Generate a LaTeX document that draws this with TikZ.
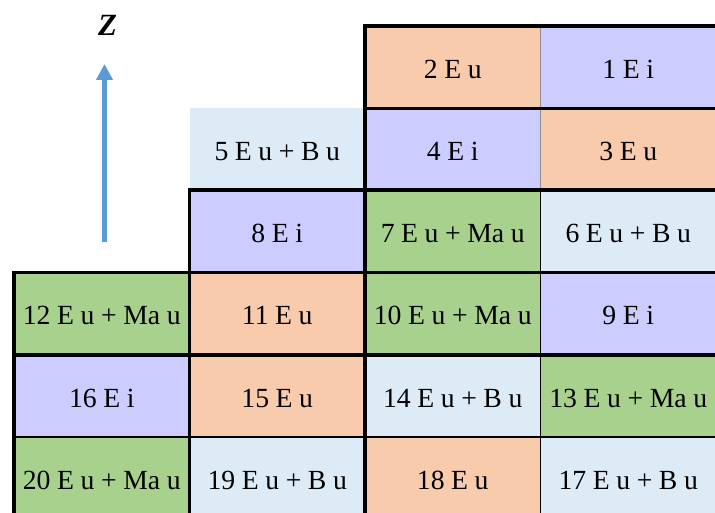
\documentclass[tikz,border=0pt]{standalone}
\usepackage{fontspec}
\setmainfont{Liberation Serif}[WordSpace=0.95]
\usetikzlibrary{arrows.meta}
\definecolor{peach}{HTML}{F8CBAD}
\definecolor{lav}{HTML}{CCCCFF}
\definecolor{grn}{HTML}{A9D18E}
\definecolor{lblue}{HTML}{DDEBF7}
\definecolor{zblue}{HTML}{5B9BD5}
\tikzset{
  cell/.style={fill=#1, draw=none, inner sep=0pt, outer sep=0pt,
    minimum width=175.5bp, minimum height=82.2bp, text height=22.6bp,
    font=\fontsize{27.8}{33}\selectfont},
  border/.style={line width=#1, draw=black, line cap=rect},
}
\begin{document}
\begin{tikzpicture}[x=1bp,y=-1bp]
\useasboundingbox (0,0) rectangle (715,513);
\clip (0,0) rectangle (715,513);
% row 1
\node[cell=peach] (n2) at (452.75,67.1) {2 E u};
\node[cell=lav]   (n1) at (628.25,67.1) {1 E i};
% row 2
\node[cell=lblue] (n5) at (277.25,149.3) {5 E u + B u};
\node[cell=lav]   (n4) at (452.75,149.3) {4 E i};
\node[cell=peach] (n3) at (628.25,149.3) {3 E u};
% row 3
\node[cell=lav]   (n8) at (277.25,231.5) {8 E i};
\node[cell=grn]   (n7) at (452.75,231.5) {7 E u + Ma u};
\node[cell=lblue] (n6) at (628.25,231.5) {6 E u + B u};
% row 4
\node[cell=grn]   (n12) at (101.75,313.7) {12 E u + Ma u};
\node[cell=peach] (n11) at (277.25,313.7) {11 E u};
\node[cell=grn]   (n10) at (452.75,313.7) {10 E u + Ma u};
\node[cell=lav]   (n9)  at (628.25,313.7) {9 E i};
% row 5
\node[cell=lav]   (n16) at (101.75,395.9) {16 E i};
\node[cell=peach] (n15) at (277.25,395.9) {15 E u};
\node[cell=lblue] (n14) at (452.75,395.9) {14 E u + B u};
\node[cell=grn]   (n13) at (628.25,395.9) {13 E u + Ma u};
% row 6
\node[cell=grn]   (n20) at (101.75,478.1) {20 E u + Ma u};
\node[cell=lblue] (n19) at (277.25,478.1) {19 E u + B u};
\node[cell=peach] (n18) at (452.75,478.1) {18 E u};
\node[cell=lblue] (n17) at (628.25,478.1) {17 E u + B u};
% borders
\draw[line width=0.8bp, black!45] (n1.north west) -- (n3.south west);
\draw[border=4bp]   (n2.north west) -- (n1.north east);
\draw[border=3bp]   (n2.south west) -- (n1.south east);
\draw[border=4bp]   (n8.north west) -- (n6.north east);
\draw[border=3.5bp] (n12.north west) -- (n9.north east);
\draw[border=4.5bp] (n16.north west) -- (n13.north east);
\draw[border=2.7bp] (n20.north west) -- (n17.north east);
\draw[border=4bp]   (n12.north west) -- (n20.south west);
\draw[border=2.5bp] (n8.north west) -- (n19.south west);
\draw[border=4bp]   (n2.north west) -- (n18.south west);
\draw[border=1.8bp] (n6.north west) -- (n17.south west);
\draw[border=4bp]   ([xshift=1.5bp]n1.north east) -- ([xshift=1.5bp]n17.south east);
% axis
\node[font=\fontsize{31}{36}\selectfont\bfseries\itshape] (zlabel) at (107.5,25.5) {Z};
\coordinate (abot) at (104.5,242);
\coordinate (atop) at (104.5,64);
\draw[zblue, line width=4.3bp, -{Triangle[width=16bp,length=16bp]}] (abot) -- (atop);
\end{tikzpicture}
\end{document}
